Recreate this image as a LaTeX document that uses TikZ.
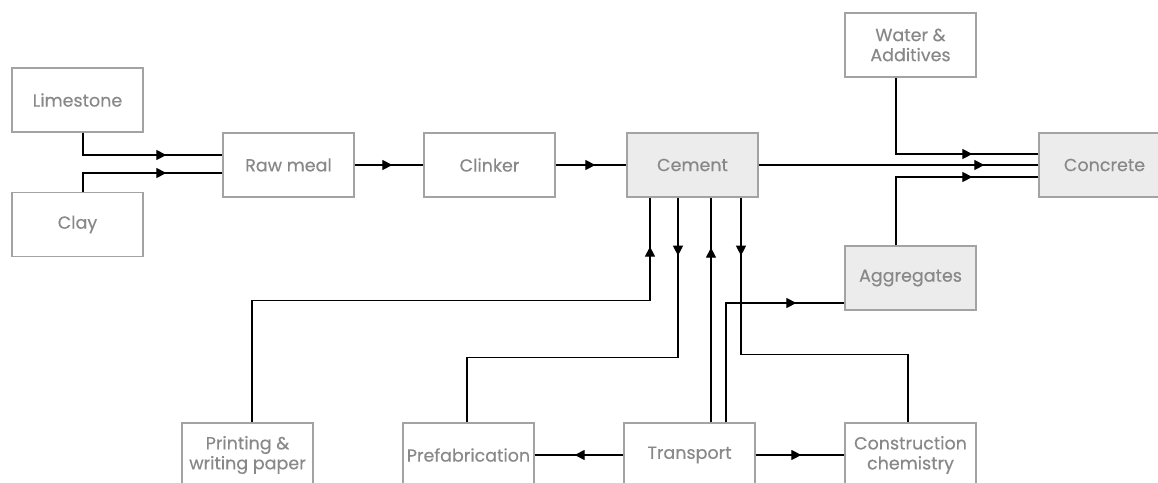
\documentclass[tikz,border=0pt]{standalone}
\usepackage{fontspec}
\setmainfont{Poppins}[FakeBold=0.35]
\usetikzlibrary{arrows.meta,decorations.markings}

\definecolor{boxgray}{HTML}{A3A3A3}
\definecolor{fillgray}{HTML}{EBECEB}
\definecolor{txtgray}{HTML}{888888}

\begin{document}
\begin{tikzpicture}[x=1pt,y=-1pt,
  box/.style={draw=boxgray, line width=1.3pt, fill=white,
    minimum width=131pt, minimum height=64pt, inner sep=0pt,
    text=txtgray, font=\fontsize{17.5}{20}\selectfont, align=center},
  hot/.style={box, fill=fillgray},
  flow/.style={line width=1.2pt, draw=black},
  tipat/.style={postaction={decorate, decoration={markings,
    mark=at position #1 with {\arrow{Triangle[length=10pt,width=10pt]}}}}}
]
\useasboundingbox (0,0) rectangle (1158,482);
\clip (0,0) rectangle (1158,482);

% raw materials and kiln line
\node[box] (lime)  at (77.5,100)   {Limestone};
\node[box] (clay)  at (77.5,224.5) {Clay};
\node[box] (meal)  at (288.5,165)  {Raw meal};
\node[box] (clink) at (489.5,165)  {Clinker};
\node[hot] (cem)   at (692.5,165)  {Cement};

% concrete side
\node[box] (water) at (910.5,45)   {Water \&\\Additives};
\node[hot] (conc)  at (1104.5,165) {Concrete};
\node[hot] (aggr)  at (910.5,278)  {Aggregates};

% downstream uses
\node[box] (paper) at (247.5,455)  {Printing \&\\writing paper};
\node[box] (prefab) at (468.5,455) {Prefabrication};
\node[box] (trans) at (689.5,455)  {Transport};
\node[box] (chem)  at (910.5,455)  {Construction\\chemistry};

% feeds into raw meal (yshift is in page units, positive = up)
\draw[flow, tipat=-56pt] ([xshift=5.5pt]lime.south) |- ([yshift=10pt]meal.west);
\draw[flow, tipat=-56pt] ([xshift=5.5pt]clay.north) |- ([yshift=-8pt]meal.west);

% main production line
\draw[flow, tipat=-31pt] (meal) -- (clink);
\draw[flow, tipat=-31pt] (clink) -- (cem);
\draw[flow, tipat=-54pt] (cem) -- (conc);

% concrete ingredients
\draw[flow, tipat=-66pt] ([xshift=-14.5pt]water.south) |- ([yshift=11pt]conc.west);
\draw[flow, tipat=-66pt] ([xshift=-14.5pt]aggr.north) |- ([yshift=-12pt]conc.west);

% branches below cement
\coordinate (c1) at ([xshift=-42.5pt]cem.south);
\coordinate (c2) at ([xshift=-14.5pt]cem.south);
\coordinate (c3) at ([xshift=18.5pt]cem.south);
\coordinate (c4) at ([xshift=48.5pt]cem.south);

\draw[flow, tipat=-49pt] ([xshift=4.5pt]paper.north) -- ++(0,-122) -| (c1);
\draw[flow, tipat=58pt] (c2) -- ++(0,160) -| ([xshift=-1.5pt]prefab.north);
\draw[flow, tipat=-50pt] (c3 |- trans.north) -- (c3);
\draw[flow, tipat=58pt] (c4) -- ++(0,157) -| ([xshift=-2.5pt]chem.north);
\draw[flow, tipat=-48pt] ([xshift=36.5pt]trans.north) |- ([yshift=-25pt]aggr.west);

% transport links
\draw[flow, tipat=-40pt] (trans) -- (prefab);
\draw[flow, tipat=-43pt] (trans) -- (chem);
\end{tikzpicture}
\end{document}
